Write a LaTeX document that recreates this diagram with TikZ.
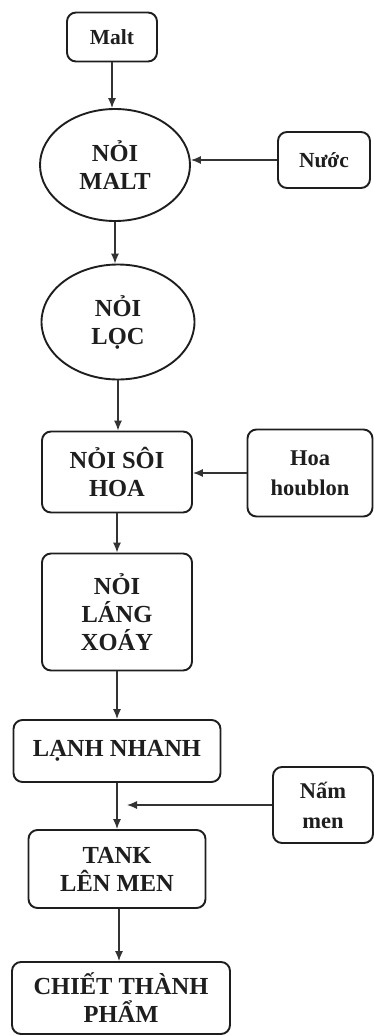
\documentclass[tikz,border=0pt]{standalone}
\usepackage{fontspec}
\setmainfont{Liberation Serif}
\usetikzlibrary{shapes.geometric,arrows.meta}
\definecolor{ink}{HTML}{1E1E1E}
\definecolor{linec}{HTML}{333333}
\tikzset{
  base/.style={draw=ink, line width=1.9pt, text=ink, align=center,
    font=\fontsize{24.5}{28}\selectfont\bfseries, inner sep=0pt},
  rbox/.style={base, rectangle, rounded corners=9pt},
  ebox/.style={base, ellipse},
  small/.style={font=\fontsize{21.5}{27}\selectfont\bfseries},
  conn/.style={draw=linec, line width=1.2pt, -{Latex[length=10pt,width=8pt]}},
}
\begin{document}
\begin{tikzpicture}[x=1pt,y=-1pt]
\useasboundingbox (0,0) rectangle (374,1036);
\node[rbox, small, minimum width=90pt, minimum height=49pt] (malt) at (112,37) {Malt};
\node[ebox, minimum width=150pt, minimum height=112pt] (noimalt) at (115,165) {NỎI\\MALT};
\node[rbox, small, minimum width=92pt, minimum height=56pt] (nuoc) at (324,160) {Nước};
\node[ebox, minimum width=153pt, minimum height=115pt] (noiloc) at (118,322) {NỎI\\LỌC};
\node[rbox, minimum width=150pt, minimum height=81pt] (noisoi) at (117,472) {NỎI SÔI\\HOA};
\node[rbox, small, font=\fontsize{22.5}{30}\selectfont\bfseries, minimum width=125pt, minimum height=87pt] (hoa) at (310,473) {Hoa\\houblon};
\node[rbox, minimum width=150pt, minimum height=117pt] (noilang) at (117,612) {NỎI\\LÁNG\\XOÁY};
\node[rbox, minimum width=207pt, minimum height=62pt] (lanh) at (117,751) {LẠNH NHANH};
\node[rbox, small, font=\fontsize{22.5}{30}\selectfont\bfseries, minimum width=100pt, minimum height=76pt] (nam) at (323,805) {Nấm\\men};
\node[rbox, minimum width=177pt, minimum height=78pt] (tank) at (117,869) {TANK\\LÊN MEN};
\node[rbox, minimum width=218pt, minimum height=72pt] (chiet) at (121,998) {CHIẾT THÀNH\\PHẨM};
\coordinate (namtip) at (127,805);
\draw[conn] (malt.south) -- (malt.south |- noimalt.north);
\draw[conn] (nuoc.west) -- (nuoc.west -| noimalt.east);
\draw[conn] (noimalt.south) -- (noimalt.south |- noiloc.north);
\draw[conn] (noiloc.south) -- (noiloc.south |- noisoi.north);
\draw[conn] (hoa.west) -- (hoa.west -| noisoi.east);
\draw[conn] (noisoi.south) -- (noisoi.south |- noilang.north);
\draw[conn] (noilang.south) -- (noilang.south |- lanh.north);
\draw[conn] (lanh.south) -- (lanh.south |- tank.north);
\draw[conn] (nam.west |- namtip) -- (namtip);
\draw[conn] ([xshift=2pt]tank.south) -- ([xshift=2pt]tank.south |- chiet.north);
\end{tikzpicture}
\end{document}
